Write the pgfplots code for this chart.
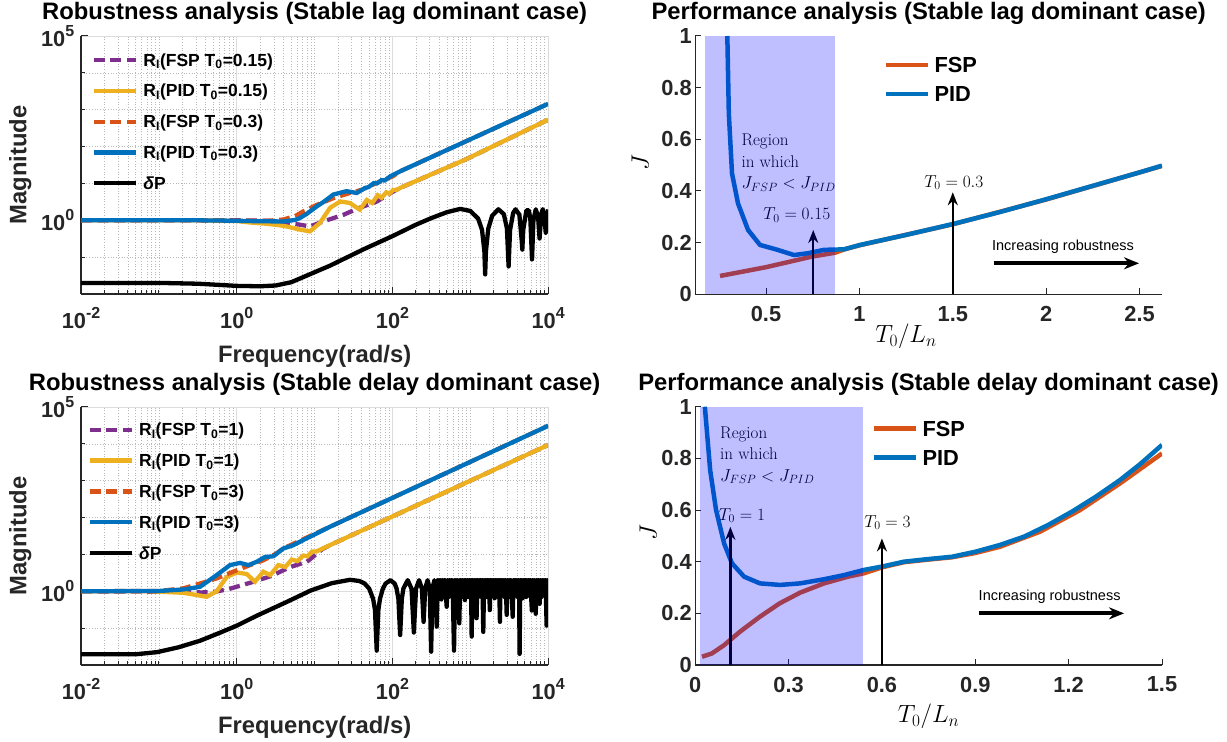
\documentclass[border=0pt]{standalone}
\usepackage{fontspec}
\usepackage{pgfplots}
\pgfplotsset{compat=1.18}
\usetikzlibrary{arrows.meta}
\newfontfamily\arial{Liberation Sans}
\definecolor{mBlue}{HTML}{0072BD}
\definecolor{mRed}{HTML}{D95319}
\definecolor{mYellow}{HTML}{EDB120}
\definecolor{mPurple}{HTML}{7E2F8E}
\definecolor{axgray}{HTML}{262626}
\definecolor{gridmaj}{HTML}{DCDCDC}
\definecolor{gridmin}{HTML}{B8B8B8}

\newcommand\tickfont{\fontsize{21.8}{26}\selectfont\arial\bfseries}
\newcommand\labfont{\fontsize{23.8}{28}\selectfont\arial\bfseries}
\newcommand\legfont{\fontsize{17.5}{21}\selectfont\arial\bfseries}
\newcommand\ltxfont{\fontsize{17}{21.5}\selectfont}
\newcommand\legline[1]{\draw[#1] (0pt,0pt) -- (42pt,0pt);}
\newcommand\sx[1]{\raisebox{10pt}{\fontsize{16}{18}\selectfont #1}}

\begin{document}
\begin{tikzpicture}
\path[use as bounding box] (0,0) rectangle (1227pt,742pt);

% ---------------- top left ----------------
\begin{axis}[at={(81.1pt,448pt)}, anchor=south west,
  width=467.1pt, height=258pt, scale only axis,
  xmode=log, ymode=log, xmin=0.01, xmax=10000, ymin=0.01, ymax=100000,
  axis x line*=bottom, axis y line*=left,
  axis line style={axgray, line width=1.2pt},
  xtick={0.01,1,100,10000},
  xticklabels={10\sx{-2},10\sx{0},10\sx{2},10\sx{4}},
  ytick={1,100000},
  yticklabels={10\sx{0},10\sx{5}},
  minor xtick={0.02,0.03,0.04,0.05,0.06,0.07,0.08,0.09,0.1,0.2,0.3,0.4,0.5,0.6,0.7,0.8,0.9,
    2,3,4,5,6,7,8,9,10,20,30,40,50,60,70,80,90,200,300,400,500,600,700,800,900,
    1000,2000,3000,4000,5000,6000,7000,8000,9000},
  minor ytick={0.1,10,100,1000,10000},
  grid=both,
  major grid style={gridmaj, line width=0.8pt},
  minor grid style={gridmin, line width=0.7pt, dotted},
  tick align=inside, major tick length=7pt, minor tick length=4pt,
  tick style={axgray, line width=1pt},
  tick label style={font=\tickfont, text=axgray},
  xticklabel style={yshift=-9.7pt},
  yticklabel style={xshift=-3.4pt},
  title style={font=\labfont, at={(axis description cs:0.5,1.039)}, anchor=base},
  xlabel style={font=\labfont, text=axgray, at={(axis description cs:0.5,-0.267)}, anchor=base},
  ylabel style={font=\labfont, text=axgray, at={(axis description cs:-0.13,0.5)}, anchor=center},
  xlabel={Frequency(rad/s)}, ylabel={Magnitude},
  title={Robustness analysis (Stable lag dominant case)},
  legend cell align=left,
  legend image code/.code={\legline{#1}},
  legend style={draw=none, fill=none, inner sep=0pt, outer sep=0pt,
    at={(axis description cs:0.0229,0.937)}, anchor=north west,
    font=\legfont, row sep=14.7pt, column sep=5.4pt,
    nodes={inner sep=0pt, text height=14pt, text depth=2pt}},
]
\addplot[mPurple, line width=4.3pt, dash pattern=on 11pt off 5.5pt] coordinates {
 (0.01,1) (1,1) (2.5,0.97) (3.98,0.88) (6.46,0.76) (8.71,0.68) (12.9,0.93)
 (23.4,1.41) (38,2.19) (63.1,3.24) (100,5.9) (126,7.59) (891,45.7) (10000,537)};
\addlegendentry{R\textsubscript{I}(FSP T\textsubscript{0}=0.15)}
\addplot[mYellow, line width=4.3pt] coordinates {
 (0.01,1) (0.3,1) (1,0.95) (1.48,0.87) (2.5,0.8) (3.98,0.71) (6.46,0.56) (8.71,0.50)
 (11.7,0.85) (15.8,2.19) (21.4,3.24) (28.2,2.95) (38,1.95) (46.8,3.55) (55,2.95)
 (64.6,4.79) (72.4,4.07) (83.2,5.75) (91.2,5.25) (102,6.61) (112,6.61) (126,7.59)
 (891,45.7) (10000,537)};
\addlegendentry{R\textsubscript{I}(PID T\textsubscript{0}=0.15)}
\addplot[mRed, line width=4.3pt, dash pattern=on 11pt off 5.5pt] coordinates {
 (0.01,1) (0.3,1) (1,0.97) (2.5,0.97) (3.98,1.05) (5.62,1.3) (7.14,1.74) (10.7,2.63)
 (17.4,3.98) (28.2,5.5) (40.7,6.76) (57.5,9.5) (100,15.5) (126,21.4) (10000,1445)};
\addlegendentry{R\textsubscript{I}(FSP T\textsubscript{0}=0.3)}
\addplot[mBlue, line width=4.3pt] coordinates {
 (0.01,1) (0.3,1) (1,0.97) (2,0.94) (3.98,0.93) (5.62,1.02) (6.46,1.15) (7.94,1.5)
 (10.7,2.4) (12.9,3.1) (17.4,5.0) (25.7,6.17) (34.7,5.5) (44.7,7.59) (49,7.9)
 (57.5,10.2) (63.1,10.0) (72.4,12.3) (79.4,12.0) (93.3,15.5) (126,21.4) (10000,1445)};
\addlegendentry{R\textsubscript{I}(PID T\textsubscript{0}=0.3)}
\addplot[black, line width=4.3pt, line join=round] coordinates {
 (0.01,0.02) (0.1,0.02) (0.316,0.019) (1,0.0166) (2,0.0162) (3.16,0.017) (5.01,0.0209)
 (7.94,0.0316) (15.8,0.0589) (42.2,0.162) (100,0.372) (200,0.759) (316,1.148)
 (501,1.66) (741,2.04) (1000,1.79) (1259,1.11) (1413,0.55) (1514,0.146) (1550,0.034)
 (1585,0.142) (1698,0.59) (1905,1.32) (2291,1.99) (2692,1.47) (2951,0.60) (3100,0.056)
 (3236,0.54) (3548,1.58) (3802,1.98) (4266,1.42) (4571,0.28) (4650,0.16) (4786,0.56)
 (5248,1.86) (5623,1.86) (5888,1.16) (6200,0.087) (6457,1.0) (6918,1.98) (7413,1.26)
 (7750,0.32) (8128,1.44) (8511,2.0) (8913,1.34) (9300,0.45) (9661,1.28) (10000,1.96)};
\addlegendentry{{\itshape δ}P}
\end{axis}

% ---------------- bottom left ----------------
\begin{axis}[at={(81.1pt,77pt)}, anchor=south west,
  width=467.1pt, height=258pt, scale only axis,
  xmode=log, ymode=log, xmin=0.01, xmax=10000, ymin=0.01, ymax=100000,
  axis x line*=bottom, axis y line*=left,
  axis line style={axgray, line width=1.2pt},
  xtick={0.01,1,100,10000},
  xticklabels={10\sx{-2},10\sx{0},10\sx{2},10\sx{4}},
  ytick={1,100000},
  yticklabels={10\sx{0},10\sx{5}},
  minor xtick={0.02,0.03,0.04,0.05,0.06,0.07,0.08,0.09,0.1,0.2,0.3,0.4,0.5,0.6,0.7,0.8,0.9,
    2,3,4,5,6,7,8,9,10,20,30,40,50,60,70,80,90,200,300,400,500,600,700,800,900,
    1000,2000,3000,4000,5000,6000,7000,8000,9000},
  minor ytick={0.1,10,100,1000,10000},
  grid=both,
  major grid style={gridmaj, line width=0.8pt},
  minor grid style={gridmin, line width=0.7pt, dotted},
  tick align=inside, major tick length=7pt, minor tick length=4pt,
  tick style={axgray, line width=1pt},
  tick label style={font=\tickfont, text=axgray},
  xticklabel style={yshift=-9.7pt},
  yticklabel style={xshift=-3.4pt},
  title style={font=\labfont, at={(axis description cs:0.5,1.041)}, anchor=base},
  xlabel style={font=\labfont, text=axgray, at={(axis description cs:0.5,-0.264)}, anchor=base},
  ylabel style={font=\labfont, text=axgray, at={(axis description cs:-0.13,0.5)}, anchor=center},
  xlabel={Frequency(rad/s)}, ylabel={Magnitude},
  title={Robustness analysis (Stable delay dominant case)},
  legend cell align=left,
  legend image code/.code={\legline{#1}},
  legend style={draw=none, fill=none, inner sep=0pt, outer sep=0pt,
    at={(axis description cs:0.0137,0.9425)}, anchor=north west,
    font=\legfont, row sep=14.8pt, column sep=5.4pt,
    nodes={inner sep=0pt, text height=14pt, text depth=2pt}},
]
\addplot[mPurple, line width=4.3pt, dash pattern=on 11pt off 5.5pt] coordinates {
 (0.01,1) (0.2,0.97) (0.35,0.93) (0.5,0.95) (0.79,1.15) (1.48,1.7) (2.82,2.63)
 (3.95,3.72) (5.25,4.8) (7.94,6.31) (12.6,14.0) (15.7,17.8) (10000,9330)};
\addlegendentry{R\textsubscript{I}(FSP T\textsubscript{0}=1)}
\addplot[mYellow, line width=4.3pt] coordinates {
 (0.01,1) (0.0767,1.0) (0.206,0.91) (0.305,0.79) (0.41,0.71) (0.552,1.0) (0.741,2.45)
 (1.0,3.24) (1.34,2.95) (1.71,1.82) (2.19,3.39) (2.69,2.75) (3.41,5.13) (4.2,4.57)
 (5.07,7.24) (6.0,6.6) (7.14,9.33) (8.1,8.9) (9.3,12.0) (10.5,12.0) (15.7,17.8)
 (10000,9330)};
\addlegendentry{R\textsubscript{I}(PID T\textsubscript{0}=1)}
\addplot[mRed, line width=4.3pt, dash pattern=on 11pt off 5.5pt] coordinates {
 (0.01,1) (0.1,1.02) (0.206,1.2) (0.336,1.62) (0.552,2.24) (1.0,3.72) (1.48,5.13)
 (2.19,6.92) (3.24,10.7) (3.95,14.5) (15.7,56.2) (10000,30900)};
\addlegendentry{R\textsubscript{I}(FSP T\textsubscript{0}=3)}
\addplot[mBlue, line width=4.3pt] coordinates {
 (0.01,1) (0.1,1.02) (0.206,1.12) (0.336,1.32) (0.552,2.75) (0.818,5.13) (1.1,5.89)
 (1.41,5.13) (1.8,6.31) (2.3,8.51) (2.95,8.91) (3.95,14.5) (5.32,17.8) (7.14,24.5)
 (15.7,56.2) (10000,30900)};
\addlegendentry{R\textsubscript{I}(PID T\textsubscript{0}=3)}
\addplot[black, line width=4.3pt, line join=round] coordinates {
 (0.01,0.0195) (0.05,0.0195) (0.0955,0.0224) (0.178,0.0302) (0.339,0.0457) (0.631,0.0776)
 (1.0,0.117) (1.82,0.219) (4.27,0.501) (8.91,1.05) (16.6,1.66) (28.5,2.05) (37.6,1.9)
 (43.9,1.62) (50.2,1.18) (56.4,0.62) (59.6,0.31) (62.7,0.0245) (65.8,0.31) (69,0.62)
 (75.2,1.18) (81.5,1.62) (94,2.0) (106.6,1.62) (112.9,1.18) (119.1,0.62) (125.4,0.065)
 (131.7,0.62) (137.9,1.18) (156.8,2.0) (175.6,1.18) (188.1,0.076) (200.6,1.18)
 (219.5,2.0) (238.3,1.18) (250.8,0.148) (263.3,1.18) (282.2,2.0) (301,1.18)
 (313.5,0.023) (326,1.18) (345,2.0)
 (358,0.75) (370,0.11) (382,2.0) (396,0.8) (410,2.0) (424,0.6) (439,2.0) (454,0.75)
 (469,2.0) (483,0.85) (497,0.38) (511,2.0) (527,0.7) (543,2.0) (560,0.8) (577,2.0)
 (597,0.65) (617,0.0245) (637,2.0) (657,0.8) (678,2.0) (700,0.7) (721,0.135) (742,2.0)
 (764,0.85) (786,2.0) (808,0.7) (830,2.0) (851,0.575) (872,2.0) (896,0.8) (920,2.0)
 (945,0.7) (970,2.0) (995,0.85) (1018,2.0) (1040,0.059) (1062,2.0) (1090,0.75)
 (1118,2.0) (1146,0.8) (1174,2.0) (1202,0.186) (1230,2.0) (1262,0.7) (1294,2.0)
 (1326,0.85) (1358,2.0) (1392,0.7) (1428,2.0) (1466,0.079) (1503,2.0) (1542,0.8)
 (1580,2.0) (1620,0.7) (1660,2.0) (1700,0.85) (1740,2.0) (1778,0.309) (1818,2.0)
 (1863,0.75) (1910,2.0) (1957,0.8) (2005,2.0) (2055,0.65) (2106,2.0) (2158,0.8)
 (2212,2.0) (2267,0.7) (2323,2.0) (2360,0.85) (2399,0.148) (2440,2.0) (2500,0.75)
 (2560,2.0) (2625,0.85) (2690,2.0) (2757,0.7) (2825,2.0) (2880,0.8) (2931,0.229)
 (2990,2.0) (3065,0.8) (3140,2.0) (3220,0.7) (3300,2.0) (3400,0.85) (3499,0.204)
 (3590,2.0) (3680,0.75) (3770,2.0) (3865,0.8) (3960,2.0) (4060,0.7) (4160,2.0)
 (4230,0.85) (4295,0.02) (4380,2.0) (4490,0.8) (4600,2.0) (4715,0.65) (4830,2.0)
 (4950,0.8) (5075,2.0) (5200,0.7) (5330,2.0) (5460,0.85) (5600,2.0) (5740,0.75)
 (5880,2.0) (6020,0.8) (6166,0.30) (6320,2.0) (6480,0.85) (6640,2.0) (6780,0.7)
 (6918,0.245) (7090,2.0) (7270,0.8) (7450,2.0) (7600,0.85) (7762,0.457) (7960,2.0)
 (8160,0.7) (8360,2.0) (8570,0.8) (8790,2.0) (9010,0.75) (9240,2.0) (9550,0.117)
 (9780,2.0) (10000,1.6)};
\addlegendentry{{\itshape δ}P}
\end{axis}

% ---------------- top right ----------------
\begin{axis}[at={(695.2pt,447.7pt)}, anchor=south west,
  width=466.8pt, height=258.3pt, scale only axis,
  xmin=0.121, xmax=2.62, ymin=0, ymax=1,
  xtick={0.5,1,1.5,2,2.5}, ytick={0,0.2,0.4,0.6,0.8,1},
  axis x line*=bottom, axis y line*=left,
  axis line style={axgray, line width=1.2pt},
  tick align=inside, major tick length=6pt,
  tick style={axgray, line width=1pt},
  /pgf/number format/assume math mode=true,
  tick label style={font=\tickfont, text=axgray},
  xticklabel style={yshift=-8.4pt},
  title style={font=\labfont, at={(axis description cs:0.5,1.039)}, anchor=base},
  xlabel style={font=\fontsize{23.5}{28}\selectfont, at={(axis description cs:0.4516,-0.1874)}, anchor=base},
  ylabel style={font=\fontsize{23}{28}\selectfont, at={(axis description cs:-0.1178,0.508)}, anchor=center},
  xlabel={$T_0/L_n$}, ylabel={$J$},
  title={Performance analysis (Stable lag dominant case)},
  legend cell align=left,
  legend image code/.code={\legline{#1}},
  legend style={draw=none, fill=none, inner sep=0pt, outer sep=0pt,
    at={(axis description cs:0.4045,0.924)}, anchor=north west,
    font=\tickfont, row sep=10.4pt, column sep=4pt,
    nodes={inner sep=0pt, text height=17pt, text depth=1.6pt}},
]
\addplot[mRed, line width=4.5pt] coordinates {
 (0.254,0.071) (0.5,0.105) (0.746,0.146) (0.87,0.161) (0.92,0.174) (1.003,0.19)
 (1.5,0.271) (2.0,0.367) (2.62,0.497)};
\addlegendentry{FSP}
\addplot[mBlue, line width=4.5pt, line join=round] coordinates {
 (0.293,1.0) (0.301,0.70) (0.318,0.468) (0.35,0.352) (0.404,0.249) (0.468,0.191)
 (0.553,0.174) (0.65,0.152) (0.725,0.159) (0.81,0.172) (0.917,0.174) (1.003,0.191)
 (1.25,0.23) (1.5,0.272) (1.75,0.318) (2.0,0.368) (2.25,0.42) (2.5,0.472) (2.62,0.498)};
\addlegendentry{PID}
\node[font=\ltxfont, align=left, anchor=west] at (axis cs:0.35,0.51)
  {Region\\in which\\$J_{FSP}<J_{PID}$};
\node[font=\ltxfont] at (axis cs:0.665,0.307) {$T_0=0.15$};
\draw[-{Stealth[length=13pt,width=10pt]}, line width=2.4pt] (axis cs:0.753,0) -- (axis cs:0.753,0.249);
\node[font=\ltxfont] at (axis cs:1.506,0.432) {$T_0=0.3$};
\draw[-{Stealth[length=13pt,width=10pt]}, line width=2.4pt] (axis cs:1.5,0) -- (axis cs:1.5,0.395);
\node[font=\fontsize{14.5}{17}\selectfont\arial] at (axis cs:2.09,0.185) {Increasing robustness};
\draw[-{Stealth[length=15pt,width=12pt]}, line width=4pt] (axis cs:1.72,0.12) -- (axis cs:2.497,0.12);
\addplot[draw=none, fill=blue, fill opacity=0.25, forget plot] coordinates
 {(0.172,0) (0.172,1) (0.871,1) (0.871,0)} --cycle;
\end{axis}

% ---------------- bottom right ----------------
\begin{axis}[at={(695.2pt,77pt)}, anchor=south west,
  width=466.8pt, height=258.3pt, scale only axis,
  xmin=0, xmax=1.5, ymin=0, ymax=1,
  xtick={0,0.3,0.6,0.9,1.2,1.5}, ytick={0,0.2,0.4,0.6,0.8,1},
  axis x line*=bottom, axis y line*=left,
  axis line style={axgray, line width=1.2pt},
  tick align=inside, major tick length=6pt,
  tick style={axgray, line width=1pt},
  /pgf/number format/assume math mode=true,
  tick label style={font=\tickfont, text=axgray},
  xticklabel style={yshift=-8.4pt},
  title style={font=\labfont, at={(axis description cs:0.5,1.039)}, anchor=base},
  xlabel style={font=\fontsize{23.5}{28}\selectfont, at={(axis description cs:0.5,-0.2234)}, anchor=base},
  ylabel style={font=\fontsize{23}{28}\selectfont, at={(axis description cs:-0.1007,0.511)}, anchor=center},
  xlabel={$T_0/L_n$}, ylabel={$J$},
  title={Performance analysis (Stable delay dominant case)},
  legend cell align=left,
  legend image code/.code={\legline{#1}},
  legend style={draw=none, fill=none, inner sep=0pt, outer sep=0pt,
    at={(axis description cs:0.3788,0.952)}, anchor=north west,
    font=\tickfont, row sep=10.4pt, column sep=4pt,
    nodes={inner sep=0pt, text height=17pt, text depth=1.6pt}},
]
\addplot[mRed, line width=4.5pt] coordinates {
 (0.022,0.032) (0.054,0.045) (0.093,0.077) (0.144,0.129) (0.208,0.187) (0.272,0.239)
 (0.337,0.28) (0.414,0.316) (0.491,0.342) (0.542,0.355) (0.6,0.378) (0.671,0.398)
 (0.748,0.408) (0.825,0.417) (0.902,0.434) (0.98,0.458) (1.108,0.516) (1.237,0.60)
 (1.365,0.703) (1.5,0.819)};
\addlegendentry{FSP}
\addplot[mBlue, line width=4.5pt, line join=round] coordinates {
 (0.031,1.0) (0.048,0.755) (0.067,0.60) (0.093,0.47) (0.118,0.394) (0.157,0.342)
 (0.208,0.316) (0.272,0.31) (0.337,0.316) (0.414,0.332) (0.478,0.348) (0.542,0.368)
 (0.6,0.381) (0.671,0.40) (0.748,0.41) (0.825,0.419) (0.902,0.439) (0.98,0.465)
 (1.057,0.497) (1.134,0.542) (1.211,0.594) (1.288,0.652) (1.365,0.716) (1.429,0.777)
 (1.5,0.852)};
\addlegendentry{PID}
\node[font=\ltxfont, align=left, anchor=west] at (axis cs:0.069,0.813)
  {Region\\in which\\$J_{FSP}<J_{PID}$};
\node[font=\ltxfont] at (axis cs:0.150,0.578) {$T_0=1$};
\draw[-{Stealth[length=13pt,width=10pt]}, line width=2.4pt] (axis cs:0.113,0) -- (axis cs:0.113,0.535);
\node[font=\ltxfont] at (axis cs:0.618,0.552) {$T_0=3$};
\draw[-{Stealth[length=13pt,width=10pt]}, line width=2.4pt] (axis cs:0.6,0) -- (axis cs:0.6,0.49);
\node[font=\fontsize{14.5}{17}\selectfont\arial] at (axis cs:1.139,0.265) {Increasing robustness};
\draw[-{Stealth[length=15pt,width=12pt]}, line width=4pt] (axis cs:0.913,0.2) -- (axis cs:1.378,0.2);
\addplot[draw=none, fill=blue, fill opacity=0.25, forget plot] coordinates
 {(0.015,0) (0.015,1) (0.539,1) (0.539,0)} --cycle;
\end{axis}
\end{tikzpicture}
\end{document}
